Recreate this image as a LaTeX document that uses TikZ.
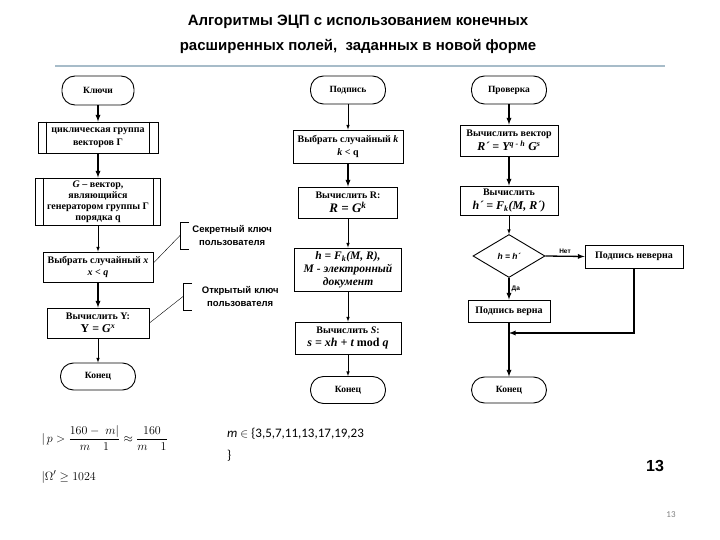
\documentclass[tikz,border=0pt]{standalone}
\usepackage{amsmath}
\usepackage{amssymb}
\usepackage{fontspec}
\setmainfont{Liberation Serif}
\newfontfamily\arialfont{Liberation Sans}
\newfontfamily\calibrifont{Carlito}
\usepackage{tikz}
\usetikzlibrary{shapes.geometric}

\newcommand{\frml}{\fontsize{12}{14}\selectfont\itshape}

\tikzset{
	term/.style={draw, line width=0.9pt, rounded corners=13pt, font=\bfseries\fontsize{9.5}{11}\selectfont, inner sep=1pt},
	blk/.style={draw, line width=0.9pt, align=center, font=\bfseries\fontsize{10}{12.5}\selectfont, inner sep=1pt},
	note/.style={align=center, inner sep=2pt, minimum height=27, font=\arialfont\bfseries\fontsize{9.5}{12.5}\selectfont},
	dec/.style={draw, diamond, line width=0.9pt, aspect=1.67, minimum width=72, minimum height=43, inner sep=0pt, font=\arialfont\bfseries\itshape\fontsize{8.5}{10}\selectfont},
	lbl/.style={font=\arialfont\bfseries\fontsize{6.5}{8}\selectfont, inner sep=2pt},
	arr/.style={-latex, line width=0.6pt},
	arrb/.style={-latex, line width=1.3pt}
}

\begin{document}
\begin{tikzpicture}[x=1pt, y=-1pt]
	\useasboundingbox (0,0) rectangle (720,540);

	\node[font=\arialfont\bfseries\fontsize{15}{25}\selectfont, align=center] (ttl) at (358,34) {Алгоритмы ЭЦП с использованием конечных\\расширенных полей,\ \ заданных в новой форме};
	\draw[color={rgb,255:red,167;green,188;blue,201}, line width=1.5pt] (55,66) -- (665,66);

	\node[term, minimum width=72, minimum height=29] (kl) at (98,90.5) {Ключи};
	\node[blk, minimum width=120, minimum height=31] (cyc) at (98,137.5) {циклическая группа\\векторов Г};
	\node[blk, minimum width=125, minimum height=47, font=\bfseries\fontsize{10}{11}\selectfont] (gen) at (98,201.5) {\textit{G} – вектор,\\являющийся\\генератором группы Г\\порядка q};
	\node[blk, minimum width=110, minimum height=30] (rndx) at (98,267) {Выбрать случайный \textit{x}\\\textit{x < q}};
	\node[blk, minimum width=102, minimum height=30] (calcY) at (98,323) {Вычислить Y:\\[1pt]{\fontsize{12}{14}\selectfont Y = \textit{G}\textsuperscript{\textit{x}}}};
	\node[term, minimum width=75, minimum height=27] (endL) at (98,376.5) {Конец};

	\draw ([xshift=9pt]cyc.north west) -- ([xshift=9pt]cyc.south west);
	\draw ([xshift=-9pt]cyc.north east) -- ([xshift=-9pt]cyc.south east);
	\draw ([xshift=8pt]gen.north west) -- ([xshift=8pt]gen.south west);
	\draw ([xshift=-8pt]gen.north east) -- ([xshift=-8pt]gen.south east);

	\draw[arrb] (kl) -- (cyc);
	\draw[arrb] (cyc) -- (gen);
	\draw[arr] (gen) -- (rndx);
	\draw[arrb] (rndx) -- (calcY);
	\draw[arr] (calcY) -- (endL);

	\node[note, text width=100, anchor=west] (sec) at (180,235.5) {Секретный ключ\\пользователя};
	\node[note, text width=110, anchor=west] (opn) at (183,296.5) {Открытый ключ\\пользователя};
	\draw ([xshift=9pt]sec.north west) -- (sec.north west) -- (sec.south west) -- ([xshift=9pt]sec.south west);
	\draw ([xshift=9pt]opn.north west) -- (opn.north west) -- (opn.south west) -- ([xshift=9pt]opn.south west);
	\draw (sec.west) -- ([yshift=4pt]rndx.east);
	\draw (opn.west) -- (calcY.east);

	\node[term, minimum width=75, minimum height=28] (sig) at (348,90) {Подпись};
	\node[blk, minimum width=110, minimum height=33] (rndk) at (348,146.5) {Выбрать случайный \textit{k}\\\textit{k} < q};
	\node[blk, minimum width=99, minimum height=31] (calcR) at (348,202.5) {Вычислить R:\\[2pt]{\fontsize{13}{15}\selectfont\itshape R = G\textsuperscript{k}}};
	\node[blk, minimum width=107, minimum height=43, font=\bfseries\itshape\fontsize{11.5}{13}\selectfont] (hash) at (348,269.5) {h = F\textsubscript{k}(M, R),\\M - электронный\\документ};
	\node[blk, minimum width=106, minimum height=32] (calcS) at (348,338) {Вычислить \textit{S}:\\[1pt]{\frml s = xh + t \upshape mod \itshape q}};
	\node[term, minimum width=75, minimum height=27] (endM) at (348,390) {Конец};

	\draw[arr] (sig) -- (rndk);
	\draw[arrb] (rndk) -- (calcR);
	\draw[arr] (calcR) -- (hash);
	\draw[arr] (hash) -- (calcS);
	\draw[arr] (calcS) -- (endM);

	\node[term, minimum width=75, minimum height=28] (chk) at (509,90) {Проверка};
	\node[blk, minimum width=98, minimum height=31] (calcRp) at (509,140.5) {Вычислить вектор\\[1pt]{\frml R´ = Y\textsuperscript{q - h} G\textsuperscript{s}}};
	\node[blk, minimum width=98, minimum height=29] (calchp) at (509,200.5) {Вычислить\\[1pt]{\frml h´ = F\textsubscript{k}(M, R´)}};
	\node[dec] (cmp) at (509,256) {h = h´};
	\node[blk, minimum width=98, minimum height=23] (bad) at (634,256.5) {Подпись неверна};
	\node[blk, minimum width=82, minimum height=22] (good) at (509,311) {Подпись верна};
	\node[term, minimum width=75, minimum height=26] (endR) at (509,390) {Конец};
	\coordinate (jn) at (509,333);

	\draw[arrb] (chk) -- (calcRp);
	\draw[arrb] (calcRp) -- (calchp);
	\draw[arr] (calchp) -- (cmp);
	\draw[arrb] (cmp.east) -- node[lbl, above] {Нет} (bad.west);
	\draw[arrb] (cmp.south) -- node[lbl, right] {Да} (good.north);
	\draw[arrb] (good) -- (endR);
	\draw[arrb] (bad.south) |- (jn);

	\node[anchor=west, font=\fontsize{13}{15}\selectfont] (frm) at (38,438) {$|\,p > \dfrac{160-\;m|}{m\quad 1} \approx \dfrac{160}{m\quad 1}$};
	\node[anchor=west, font=\fontsize{13}{15}\selectfont] (omg) at (38,477) {$|\Omega' \geq 1024$};
	\node[anchor=north west, align=left, font=\calibrifont\fontsize{13}{22}\selectfont, inner sep=0pt] (mset) at (227,428) {\textit{m} $\in$ \{3,5,7,11,13,17,19,23\\\}};

	\node[font=\arialfont\bfseries\fontsize{16}{18}\selectfont] (num) at (655,466) {13};
	\node[font=\calibrifont\fontsize{9}{10}\selectfont, text=gray] (pg) at (671,515) {13};
\end{tikzpicture}
\end{document}
